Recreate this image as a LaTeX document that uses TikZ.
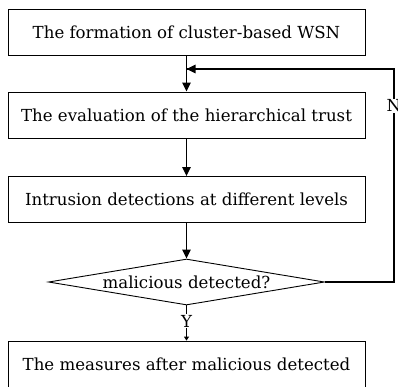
\documentclass[tikz,border=0pt]{standalone}
\usepackage{fontspec}
\setmainfont{DejaVu Serif}
\usetikzlibrary{arrows.meta,shapes.geometric}
\begin{document}
\begin{tikzpicture}[x=1pt,y=-1pt,
  stepbox/.style={draw,line width=0.9pt,minimum width=357pt,minimum height=46pt,inner sep=0pt,font=\fontsize{16.6}{19}\selectfont},
  decision/.style={draw,line width=0.9pt,diamond,aspect=6,minimum width=276pt,minimum height=46pt,inner sep=0pt,font=\fontsize{16.6}{19}\selectfont},
  conn/.style={line width=1.3pt,-{Triangle[length=9pt,width=8.5pt]}},
  lbl/.style={fill=white,inner sep=1pt,font=\fontsize{16.6}{19}\selectfont}]
\clip (0,0) rectangle (398,386);
\useasboundingbox (0,0) rectangle (398,386);
\node[stepbox] (b1) at (186.5,32) {The formation of cluster-based WSN};
\node[stepbox] (b2) at (186.5,115) {The evaluation of the hierarchical trust};
\node[stepbox] (b3) at (186.5,199.5) {Intrusion detections at different levels};
\node[decision] (d) at (186.5,282) {malicious detected?};
\node[stepbox] (b4) at (186.5,364) {The measures after malicious detected};
\coordinate (r1) at (394,282);
\coordinate (r2) at (394,69);
\coordinate (m) at (186.5,69);
\draw[conn] (b1) -- (b2);
\draw[conn] (b2) -- (b3);
\draw[conn] (b3.south) -- (d.north);
\draw[line width=1.3pt] (d.east) -- (r1) -- (r2) -- (m);
\draw[conn] (r2) -- (m);
\node[lbl] (n) at (394,106) {N};
\draw[line width=0.9pt,-{Triangle[length=4pt,width=5pt]}] (d.south) -- (b4.north);
\node[lbl] (y) at (186.5,321) {Y};
\end{tikzpicture}
\end{document}
